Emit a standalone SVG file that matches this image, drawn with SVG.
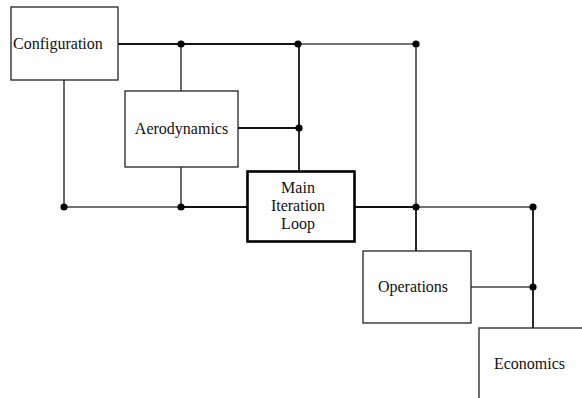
<svg xmlns="http://www.w3.org/2000/svg" width="582" height="398" viewBox="0 0 582 398">
<style>
.box{fill:#fff;stroke:#222;stroke-width:1.3}
.main{fill:#fff;stroke:#000;stroke-width:2.6}
.t{font-family:"Liberation Serif",serif;font-size:16px;fill:#111}
.c{text-anchor:middle}
.w{fill:none;stroke:#444;stroke-width:1.6}
.k{fill:none;stroke:#111;stroke-width:1.8}
.d{fill:#000}
</style>
<g id="connectors">
<line class="k" x1="118" y1="44" x2="299" y2="44"/>
<line class="w" x1="299" y1="44" x2="416" y2="44"/>
<line class="w" x1="181" y1="44" x2="181" y2="91"/>
<line class="k" x1="299" y1="44" x2="299" y2="128"/>
<line class="k" x1="299" y1="128" x2="299" y2="171"/>
<line class="k" x1="238" y1="128" x2="299" y2="128"/>
<line class="w" x1="416" y1="44" x2="416" y2="207"/>
<line class="k" x1="416" y1="207" x2="416" y2="251"/>
<line class="w" x1="64" y1="80" x2="64" y2="207"/>
<line class="w" x1="64" y1="207" x2="181" y2="207"/>
<line class="w" x1="181" y1="167" x2="181" y2="207"/>
<line class="k" x1="181" y1="207" x2="247" y2="207"/>
<line class="k" x1="355" y1="207" x2="416" y2="207"/>
<line class="w" x1="416" y1="207" x2="533" y2="207"/>
<line class="k" x1="533" y1="207" x2="533" y2="328"/>
<line class="w" x1="471" y1="287" x2="533" y2="287"/>
<circle class="d" cx="181" cy="44" r="3.6"/>
<circle class="d" cx="298" cy="44" r="3.6"/>
<circle class="d" cx="416" cy="44" r="3.6"/>
<circle class="d" cx="299" cy="128" r="3.6"/>
<circle class="d" cx="64" cy="207" r="3.6"/>
<circle class="d" cx="181" cy="207" r="3.6"/>
<circle class="d" cx="416" cy="207" r="3.6"/>
<circle class="d" cx="533" cy="207" r="3.6"/>
<circle class="d" cx="533" cy="287" r="3.6"/>
</g>
<g id="configuration">
<rect class="box" x="11" y="7" width="107" height="73"/>
<text class="t" x="13" y="49">Configuration</text>
</g>
<g id="aerodynamics">
<rect class="box" x="125" y="91" width="113" height="76"/>
<text class="t c" x="181.5" y="134">Aerodynamics</text>
</g>
<g id="main-iteration-loop">
<rect class="main" x="247.5" y="171.5" width="107" height="70"/>
<text class="t c" x="298" y="193">Main</text>
<text class="t c" x="298" y="211">Iteration</text>
<text class="t c" x="298" y="229">Loop</text>
</g>
<g id="operations">
<rect class="box" x="363" y="251" width="108" height="72"/>
<text class="t c" x="413" y="292">Operations</text>
</g>
<g id="economics">
<rect class="box" x="479" y="328" width="120" height="90"/>
<text class="t c" x="529.5" y="369">Economics</text>
</g>
</svg>
